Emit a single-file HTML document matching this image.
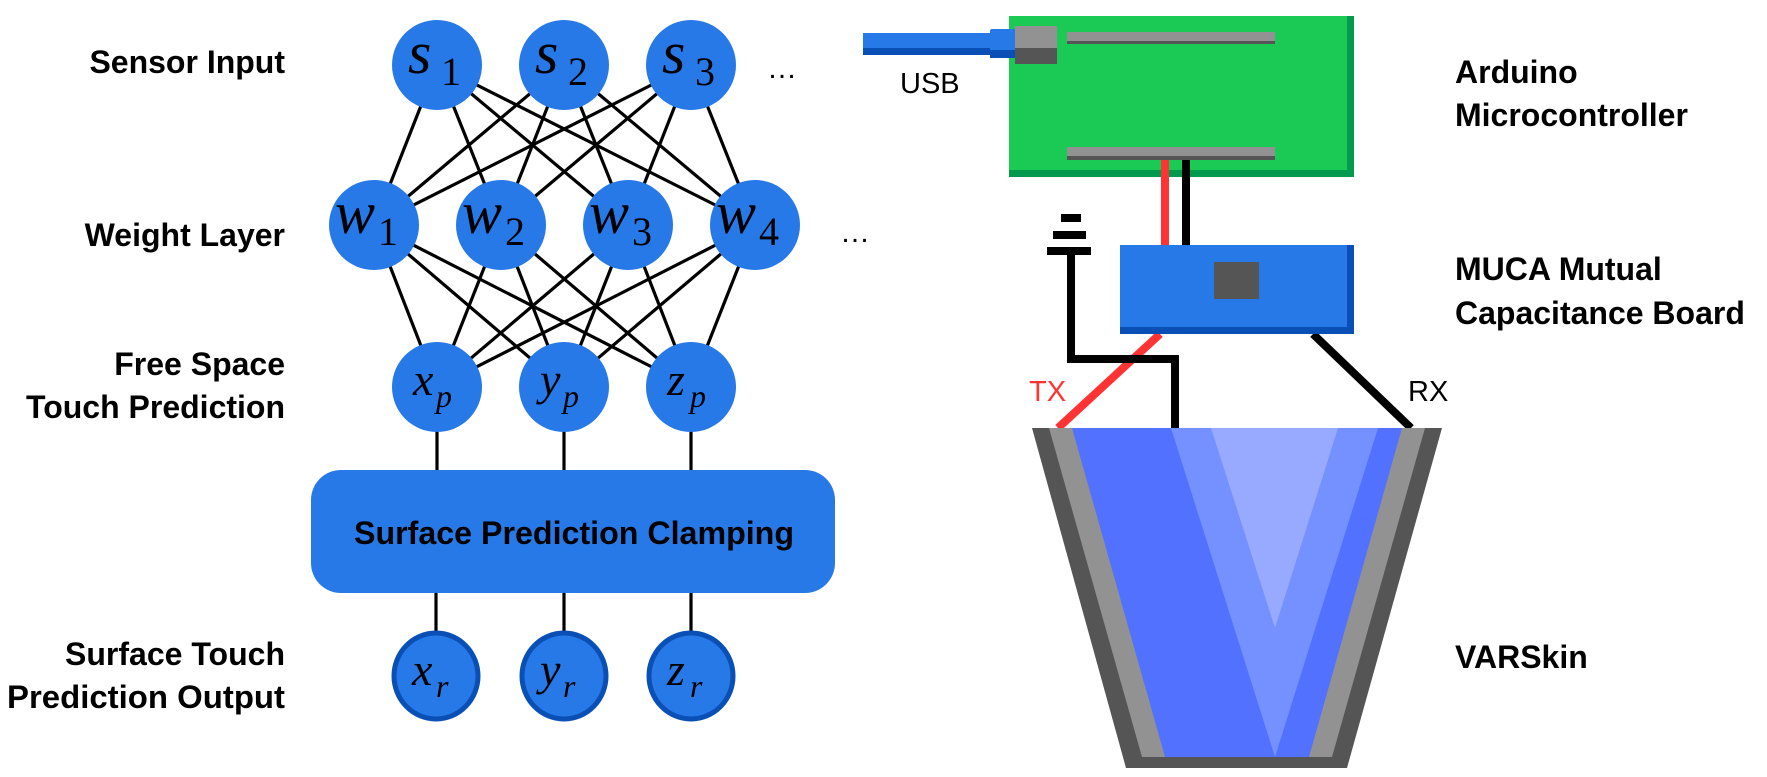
<!DOCTYPE html>
<html><head><meta charset="utf-8"><style>
html,body{margin:0;padding:0;background:#fff;}
svg{display:block;}
.lb{font-family:"Liberation Sans",sans-serif;font-weight:bold;font-size:32px;fill:#000;}
.m{font-family:"Liberation Serif",serif;font-style:italic;fill:#000;}
.sub{font-family:"Liberation Serif",serif;font-style:normal;fill:#000;}
</style></head><body>
<svg width="1767" height="777" viewBox="0 0 1767 777" xmlns="http://www.w3.org/2000/svg">
<g stroke="#000" stroke-width="3.2">
  <line x1="437" y1="65" x2="374" y2="225"/><line x1="437" y1="65" x2="501" y2="225"/><line x1="437" y1="65" x2="628" y2="225"/><line x1="437" y1="65" x2="755" y2="225"/>
  <line x1="564" y1="65" x2="374" y2="225"/><line x1="564" y1="65" x2="501" y2="225"/><line x1="564" y1="65" x2="628" y2="225"/><line x1="564" y1="65" x2="755" y2="225"/>
  <line x1="691" y1="65" x2="374" y2="225"/><line x1="691" y1="65" x2="501" y2="225"/><line x1="691" y1="65" x2="628" y2="225"/><line x1="691" y1="65" x2="755" y2="225"/>
  <line x1="374" y1="225" x2="437" y2="387"/><line x1="374" y1="225" x2="564" y2="387"/><line x1="374" y1="225" x2="691" y2="387"/>
  <line x1="501" y1="225" x2="437" y2="387"/><line x1="501" y1="225" x2="564" y2="387"/><line x1="501" y1="225" x2="691" y2="387"/>
  <line x1="628" y1="225" x2="437" y2="387"/><line x1="628" y1="225" x2="564" y2="387"/><line x1="628" y1="225" x2="691" y2="387"/>
  <line x1="755" y1="225" x2="437" y2="387"/><line x1="755" y1="225" x2="564" y2="387"/><line x1="755" y1="225" x2="691" y2="387"/>
  <line x1="437" y1="420" x2="437" y2="475"/><line x1="564" y1="420" x2="564" y2="475"/><line x1="691" y1="420" x2="691" y2="475"/>
  <line x1="436" y1="590" x2="436" y2="640"/><line x1="564" y1="590" x2="564" y2="640"/><line x1="691" y1="590" x2="691" y2="640"/>
</g>
<g fill="#2879e8">
  <circle cx="437" cy="65" r="45"/><circle cx="564" cy="65" r="45"/><circle cx="691" cy="65" r="45"/>
  <circle cx="374" cy="225" r="45"/><circle cx="501" cy="225" r="45"/><circle cx="628" cy="225" r="45"/><circle cx="755" cy="225" r="45"/>
  <ellipse cx="437" cy="387" rx="45" ry="45"/><ellipse cx="564" cy="387" rx="45" ry="45"/><ellipse cx="691" cy="387" rx="45" ry="45"/>
  <rect x="311" y="470" width="524" height="123" rx="30"/>
</g>
<g fill="#2879e8" stroke="#0a4fb5" stroke-width="5">
  <ellipse cx="436" cy="676" rx="42" ry="43"/><ellipse cx="564" cy="676" rx="42" ry="43"/><ellipse cx="691" cy="676" rx="42" ry="43"/>
</g>
<g>
  <text x="408" y="73" class="m" font-size="60">s</text><text x="441" y="85" class="sub" font-size="40">1</text>
  <text x="535" y="73" class="m" font-size="60">s</text><text x="568" y="85" class="sub" font-size="40">2</text>
  <text x="662" y="73" class="m" font-size="60">s</text><text x="695" y="85" class="sub" font-size="40">3</text>
  <text x="335" y="233" class="m" font-size="60">w</text><text x="378" y="245" class="sub" font-size="40">1</text>
  <text x="462" y="233" class="m" font-size="60">w</text><text x="505" y="245" class="sub" font-size="40">2</text>
  <text x="589" y="233" class="m" font-size="60">w</text><text x="632" y="245" class="sub" font-size="40">3</text>
  <text x="716" y="233" class="m" font-size="60">w</text><text x="759" y="245" class="sub" font-size="40">4</text>
  <text x="413" y="395" class="m" font-size="46">x</text><text x="436" y="407" class="m" font-size="32">p</text>
  <text x="540" y="395" class="m" font-size="46">y</text><text x="563" y="407" class="m" font-size="32">p</text>
  <text x="667" y="395" class="m" font-size="46">z</text><text x="690" y="407" class="m" font-size="32">p</text>
  <text x="412" y="685" class="m" font-size="46">x</text><text x="436" y="697" class="m" font-size="32">r</text>
  <text x="540" y="685" class="m" font-size="46">y</text><text x="563" y="697" class="m" font-size="32">r</text>
  <text x="667" y="685" class="m" font-size="46">z</text><text x="690" y="697" class="m" font-size="32">r</text>
  <text x="767" y="78" font-family="Liberation Sans,sans-serif" font-size="30" fill="#000">…</text>
  <text x="840" y="242" font-family="Liberation Sans,sans-serif" font-size="30" fill="#000">…</text>
</g>
<text x="574" y="544" text-anchor="middle" class="lb" font-size="32" textLength="440" lengthAdjust="spacingAndGlyphs">Surface Prediction Clamping</text>
<g class="lb" text-anchor="end">
  <text x="285" y="73">Sensor Input</text>
  <text x="285" y="246">Weight Layer</text>
  <text x="285" y="375">Free Space</text>
  <text x="285" y="418">Touch Prediction</text>
  <text x="285" y="665" textLength="220" lengthAdjust="spacingAndGlyphs">Surface Touch</text>
  <text x="285" y="708" textLength="278" lengthAdjust="spacingAndGlyphs">Prediction Output</text>
</g>
<rect x="1009" y="16" width="345" height="161" fill="#1bc955"/>
<rect x="1009" y="170" width="345" height="7" fill="#049a4d"/>
<rect x="1347" y="16" width="7" height="161" fill="#049a4d"/>
<rect x="1067" y="32" width="208" height="9" fill="#929292"/><rect x="1067" y="41" width="208" height="3" fill="#555"/>
<rect x="1067" y="147" width="208" height="9" fill="#929292"/><rect x="1067" y="156" width="208" height="4" fill="#555"/>
<rect x="863" y="33" width="130" height="15" fill="#2879e8"/><rect x="863" y="48" width="130" height="7" fill="#0a4fb5"/>
<rect x="990" y="29" width="27" height="29" rx="2" fill="#2879e8"/><rect x="990" y="50" width="27" height="8" fill="#0a4fb5"/>
<rect x="1015" y="26" width="42" height="22" fill="#929292"/><rect x="1015" y="48" width="42" height="16" fill="#555"/>
<text x="900" y="93" font-family="Liberation Sans,sans-serif" font-size="29" fill="#000">USB</text>
<line x1="1165" y1="160" x2="1165" y2="245" stroke="#ff3333" stroke-width="8"/>
<line x1="1186" y1="160" x2="1186" y2="245" stroke="#000" stroke-width="8"/>
<line x1="1160" y1="334" x2="1058" y2="428" stroke="#ff3333" stroke-width="8"/>
<line x1="1313" y1="334" x2="1411" y2="428" stroke="#000" stroke-width="8"/>
<polyline points="1071,255 1071,359 1175,359 1175,428" fill="none" stroke="#000" stroke-width="8"/>
<rect x="1061" y="214" width="20" height="8" fill="#000"/>
<rect x="1053" y="231" width="33" height="8" fill="#000"/>
<rect x="1047" y="247" width="44" height="8" fill="#000"/>
<rect x="1120" y="245" width="234" height="89" fill="#2879e8"/>
<rect x="1120" y="327" width="234" height="7" fill="#0a4fb5"/>
<rect x="1347" y="245" width="7" height="89" fill="#0a4fb5"/>
<rect x="1214" y="262" width="45" height="37" fill="#555"/>
<text x="1029" y="401" font-family="Liberation Sans,sans-serif" font-size="29" fill="#ff3333">TX</text>
<text x="1408" y="401" font-family="Liberation Sans,sans-serif" font-size="29" fill="#000">RX</text>
<polygon points="1032,428 1442,428 1347,768 1126,768" fill="#555"/>
<polygon points="1049,428 1425,428 1332,757 1142,757" fill="#929292"/>
<polygon points="1072,428 1402,428 1309,757 1165,757" fill="#5271ff"/>
<polygon points="1171,428 1378,428 1275,757" fill="#7590ff"/>
<polygon points="1211,428 1338,428 1275,628" fill="#98aaff"/>
<g class="lb">
  <text x="1455" y="83">Arduino</text>
  <text x="1455" y="126">Microcontroller</text>
  <text x="1455" y="280">MUCA Mutual</text>
  <text x="1455" y="324">Capacitance Board</text>
  <text x="1455" y="668">VARSkin</text>
</g>
</svg>
</body></html>
